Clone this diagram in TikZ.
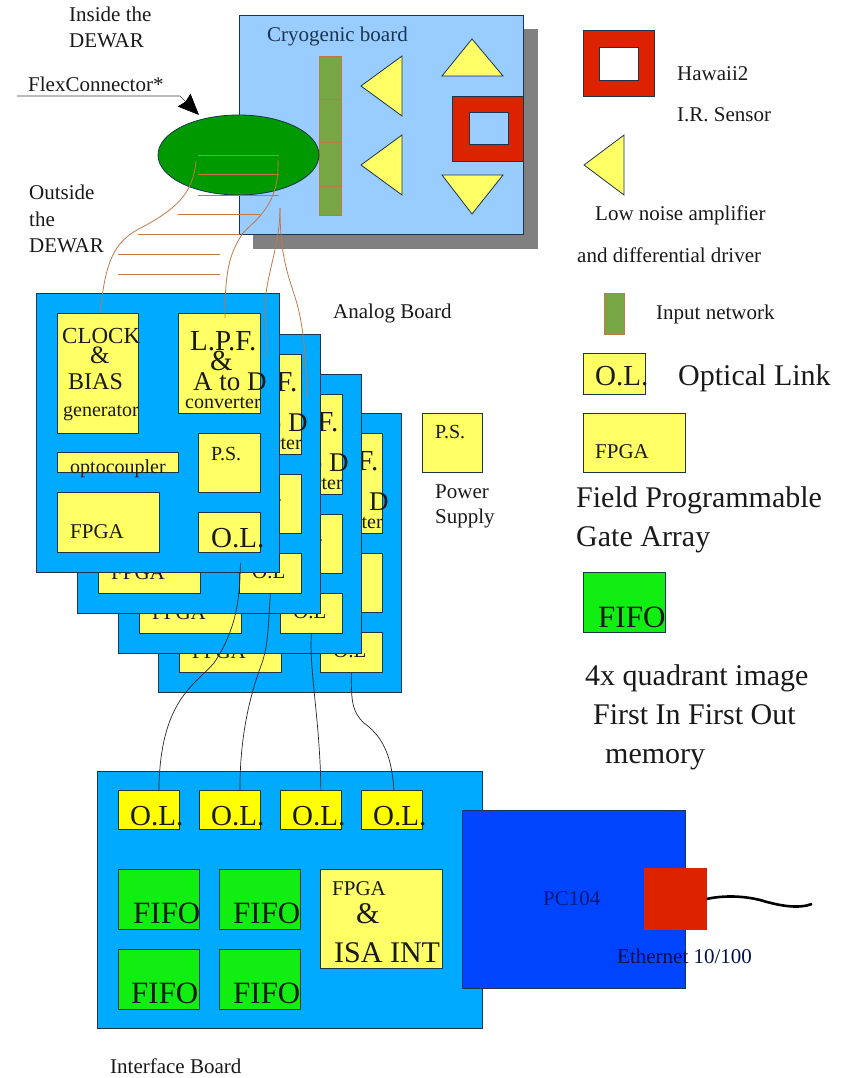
\documentclass[tikz,border=0pt]{standalone}
\usepackage{fontspec}
\setmainfont{Liberation Serif}
\usepackage{xcolor}
\usetikzlibrary{shapes.geometric, arrows.meta, positioning, calc}
\definecolor{cryoblue}{HTML}{99CCFF}
\definecolor{boardblue}{HTML}{00AAFF}
\definecolor{pcblue}{HTML}{0044FF}
\definecolor{pctext}{HTML}{001A77}
\definecolor{paleyellow}{HTML}{FFFF66}
\definecolor{fullyellow}{HTML}{FFFF00}
\definecolor{fifogreen}{HTML}{11EE11}
\definecolor{flexgreen}{HTML}{009900}
\definecolor{netgreen}{HTML}{77A644}
\definecolor{sensorred}{HTML}{DD2200}
\definecolor{flexbrown}{HTML}{C0784A}
\definecolor{edge}{HTML}{1A3550}
\begin{document}
\begin{tikzpicture}[x=1pt, y=-1pt,
  box/.style 2 args={rectangle, draw=edge, line width=0.8pt, anchor=north west, inner sep=0pt,
    minimum width=#1pt, minimum height=#2pt},
  txt/.style={font=\fontsize{#1}{#1}\selectfont, anchor=base west, inner sep=0pt, text=black!90},
  amp/.style={draw=edge, line width=0.8pt, fill=paleyellow},
  flex/.style={flexbrown, line width=0.8pt},
  fiber/.style={black!85, line width=0.7pt},
]
  \useasboundingbox (0,0) rectangle (854,1078);

  % cryogenic board
  \fill[black!50] (253,29) rectangle (538,249);
  \node[box={284}{219}, fill=cryoblue] (cryo) at (239,15) {};
  \node[txt=21, text=edge] (cryolbl) at (267,42) {Cryogenic board};
  \node[box={22}{159}, fill=netgreen, draw=flexbrown] (net) at (319,56) {};
  \foreach \y in {99,142,186}
    \draw[flex] (319,\y) -- (341,\y);
  \draw[amp] (361,86) -- (402,56) -- (402,116) -- cycle;
  \draw[amp] (361,165) -- (402,135) -- (402,195) -- cycle;
  \draw[amp] (472,39) -- (503,76) -- (442,76) -- cycle;
  \draw[amp] (442,175) -- (503,175) -- (472,214) -- cycle;
  \node[box={71}{65}, fill=sensorred] (sensor) at (452,96) {};
  \node[box={39}{32}, fill=cryoblue] (window) at (469,112) {};

  % flex connector
  \node[ellipse, draw=edge, line width=0.8pt, fill=flexgreen, inner sep=0pt,
    minimum width=161pt, minimum height=80pt] (flexcon) at (238.5,155) {};
  \node[txt=21] (flexlbl) at (28,92) {FlexConnector*};
  \coordinate (flexstart) at (17,96);
  \coordinate (flextip) at (199,115);
  \draw[black!75, line width=0.7pt, -{Stealth[length=21pt, width=18pt, inset=2pt, black]}]
    (flexstart) -- (180,96) -- (flextip);
  \node[txt=21] (insidelbl) at (69,22) {Inside the};
  \node[txt=21] (insidelbl2) at (69,48) {DEWAR};
  \node[txt=21] (outsidelbl) at (29,200) {Outside};
  \node[txt=21] (outsidelbl2) at (29,226) {the};
  \node[txt=21] (outsidelbl3) at (29,252) {DEWAR};

  % analog boards
  \foreach \n/\dx/\dy/\olfont/\oly/\oltext in {4/122/120/21/537/O.L, 3/82/81/21/537/O.L, 2/41/41/21/537/O.L, 1/0/0/29/547/O.L.} {
    \begin{scope}[shift={(\dx,\dy)}]
      \node[box={243}{279}, fill=boardblue] (board\n) at (36,293) {};
      \node[box={81}{120}, fill=paleyellow] (clock\n) at (57,313) {};
      \node[box={82}{100}, fill=paleyellow] (lpf\n) at (178,313) {};
      \node[box={62}{59}, fill=paleyellow] (ps\n) at (198,433) {};
      \node[box={121}{20}, fill=paleyellow] (opto\n) at (57,452) {};
      \node[box={102}{60}, fill=paleyellow] (fpga\n) at (57,492) {};
      \node[box={62}{40}, fill=paleyellow] (ol\n) at (198,512) {};
      \node[txt=23] (clocka\n) at (62,343) {CLOCK};
      \node[txt=25] (clockb\n) at (90,363) {\&};
      \node[txt=24] (clockc\n) at (68,389) {BIAS};
      \node[txt=20] (clockd\n) at (63,416) {generator};
      \node[txt=29] (lpfa\n) at (190,350) {L.P.F.};
      \node[txt=29] (lpfb\n) at (210,370) {\&};
      \node[txt=27] (lpfc\n) at (193,390) {A to D};
      \node[txt=20] (lpfd\n) at (185,408) {converter};
      \node[txt=20] (pslbl\n) at (211,460) {P.S.};
      \node[txt=20] (optolbl\n) at (70,473) {optocoupler};
      \node[txt=21] (fpgalbl\n) at (70,538) {FPGA};
      \node[txt=\olfont] (ollbl\n) at (211,\oly) {\oltext};
    \end{scope}
  }
  \node[txt=21] (analoglbl) at (333,318) {Analog Board};
  \node[box={60}{59}, fill=paleyellow] (pslegend) at (422,413) {};
  \node[txt=20] (pslegendlbl) at (435,438) {P.S.};
  \node[txt=21] (powerlbl) at (435,498) {Power};
  \node[txt=21] (supplylbl) at (435,523) {Supply};

  % flex cables
  \foreach \y/\a/\b in {155/198/279, 174/198/279, 195/198/279, 214/178/260, 234/138/240, 254/118/220, 274/118/220}
    \draw[flex] (\a,\y) -- (\b,\y);
  \coordinate (nettop) at (196,161);
  \coordinate (nettwo) at (278,160);
  \coordinate (netthree) at (280,208);
  \coordinate (endthree) at (266,357);
  \coordinate (endfour) at (307,397);
  \draw[flex] (nettop) .. controls (193,195) and (175,210) .. (137,230)
    .. controls (110,245) and (105,270) .. (100,313);
  \draw[flex] (nettwo) .. controls (280,205) and (255,220) .. (243,233)
    .. controls (228,255) and (225,275) .. (225,318);
  \draw[flex] (netthree) .. controls (280,240) and (270,265) .. (266,293)
    .. controls (265,320) and (267,340) .. (endthree);
  \draw[flex] (netthree) .. controls (280,255) and (288,275) .. (295,297)
    .. controls (304,325) and (306,360) .. (endfour);

  % interface board
  \node[box={385}{257}, fill=boardblue] (iface) at (97,771) {};
  \foreach \n/\x in {1/118, 2/199, 3/280, 4/361} {
    \node[box={61}{39}, fill=fullyellow] (ifol\n) at (\x,790) {};
    \node[txt=29] (iflbl\n) at (\x+12,825) {O.L.};
  }
  \foreach \n/\x/\y/\t in {a/118/869/133, b/219/869/233, c/118/949/131, d/219/949/233} {
    \node[box={81}{60}, fill=fifogreen] (fifo\n) at (\x,\y) {};
    \node[txt=31] (fifolbl\n) at (\t,\y+54) {FIFO};
  }
  \node[box={122}{99}, fill=paleyellow] (isa) at (320,869) {};
  \node[txt=21] (isaa) at (332,895) {FPGA};
  \node[txt=30] (isab) at (356,923) {\&};
  \node[txt=30] (isac) at (334,962) {ISA INT};
  \node[txt=21] (ifacelbl) at (110,1073) {Interface Board};

  % fibers
  \draw[fiber] ([xshift=11pt,yshift=-10pt]ol1.south) .. controls (240,600) and (236,630) .. (214,663)
    .. controls (195,685) and (160,700) .. ([xshift=10pt]ifol1.north);
  \draw[fiber] (ol2.south) .. controls (268,630) and (268,645) .. (262,663)
    .. controls (248,700) and (240,740) .. ([xshift=10pt]ifol2.north);
  \draw[fiber] (ol3.south) .. controls (309,670) and (320,720) .. ([xshift=10pt]ifol3.north);
  \draw[fiber] (ol4.south) .. controls (351,700) and (352,712) .. (364,723)
    .. controls (385,738) and (392,760) .. ([xshift=2pt]ifol4.north);

  % pc104
  \node[box={223}{178}, fill=pcblue] (pc) at (462,810) {};
  \node[txt=21, text=pctext] (pclbl) at (543,905) {PC104};
  \node[box={62}{61}, fill=sensorred, draw=sensorred] (eth) at (644,868) {};
  \coordinate (ethend) at (812,904);
  \draw[black, line width=2.6pt] (eth.east) .. controls (720,896) and (740,895) .. (760,900)
    .. controls (780,906) and (798,909) .. (ethend);
  \node[txt=21, text=pctext!60!black] (ethlbl) at (617,963) {Ethernet 10/100};

  % legend
  \node[box={71}{66}, fill=sensorred] (hawaii) at (583,30) {};
  \node[box={39}{33}, fill=white] (hawaiiwin) at (599,47) {};
  \node[txt=21] (hawaiilbl) at (677,81) {Hawaii2};
  \node[txt=21] (irlbl) at (677,122) {I.R. Sensor};
  \draw[amp] (584,165) -- (624,135) -- (624,195) -- cycle;
  \node[txt=21] (amplbl) at (595,220) {Low noise amplifier};
  \node[txt=21] (drvlbl) at (577,262) {and differential driver};
  \node[box={20}{41}, fill=netgreen, draw=flexbrown] (netlegend) at (604,293) {};
  \node[txt=21] (netlbl) at (656,319) {Input network};
  \node[box={62}{41}, fill=paleyellow] (ollegend) at (583,353) {};
  \node[txt=29] (ollegendlbl) at (595,385) {O.L.};
  \node[txt=30] (optlbl) at (678,385) {Optical Link};
  \node[box={102}{59}, fill=paleyellow] (fpgalegend) at (583,413) {};
  \node[txt=21] (fpgalegendlbl) at (595,458) {FPGA};
  \node[txt=30] (fieldlbl) at (576,507) {Field Programmable};
  \node[txt=30] (gatelbl) at (576,546) {Gate Array};
  \node[box={82}{60}, fill=fifogreen] (fifolegend) at (583,572) {};
  \node[txt=31] (fifolegendlbl) at (598,627) {FIFO};
  \node[txt=30] (quadlbl) at (585,685) {4x quadrant image};
  \node[txt=30] (firstlbl) at (593,724) {First In First Out};
  \node[txt=30] (memlbl) at (605,763) {memory};
\end{tikzpicture}
\end{document}
